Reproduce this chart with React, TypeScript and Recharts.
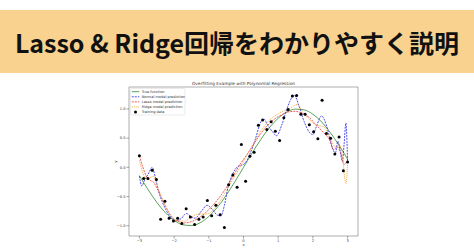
import React from 'react';
import { ComposedChart, Line, Scatter, XAxis, YAxis, ReferenceArea } from 'recharts';

const bannerTitle = 'Lasso & Ridge回帰をわかりやすく説明';
const chartTitle = 'Overfitting Example with Polynomial Regression';
const legendLabels = ['True function', 'Normal model prediction', 'Lasso model prediction', 'Ridge model prediction', 'Training data'];
const xTicks = [-3, -2, -1, 0, 1, 2, 3];
const yTicks = [-1.0, -0.5, 0.0, 0.5, 1.0];

const trainX = [-3.0, -2.878, -2.755, -2.633, -2.51, -2.388, -2.265, -2.143, -2.02, -1.898, -1.776, -1.653, -1.531, -1.408, -1.286, -1.163, -1.041, -0.918, -0.796, -0.673, -0.551, -0.429, -0.306, -0.184, -0.061, 0.061, 0.184, 0.306, 0.429, 0.551, 0.673, 0.796, 0.918, 1.041, 1.163, 1.286, 1.408, 1.531, 1.653, 1.776, 1.898, 2.02, 2.143, 2.265, 2.388, 2.51, 2.633, 2.755, 2.878, 3.0];
const trainY = [0.2, -0.19, -0.19, -0.05, -0.21, -0.89, -0.58, -0.87, -0.92, -0.87, -0.96, -0.71, -0.85, -0.98, -0.89, -0.85, -0.57, -0.83, -0.65, -0.81, -1.03, -0.3, -0.13, -0.34, 0.39, -0.24, 0.19, 0.26, 0.72, 0.81, 0.65, 0.78, 0.62, 0.46, 0.85, 0.99, 1.22, 1.23, 0.91, 0.91, 0.73, 0.61, 0.49, 1.15, 0.58, 0.5, 0.23, 0.52, -0.06, 0.09];

const trueX = [-3, -2.75, -2.5, -2.25, -2, -1.75, -1.5, -1.25, -1, -0.75, -0.5, -0.25, 0, 0.25, 0.5, 0.75, 1, 1.25, 1.5, 1.75, 2, 2.25, 2.5, 2.75, 3];
const trueY = [-0.141, -0.382, -0.598, -0.778, -0.909, -0.984, -0.997, -0.949, -0.841, -0.682, -0.479, -0.247, 0, 0.247, 0.479, 0.682, 0.841, 0.949, 0.997, 0.984, 0.909, 0.778, 0.598, 0.382, 0.141];

const normalX = [-3.0, -2.93, -2.85, -2.75, -2.63, -2.55, -2.45, -2.3, -2.1, -1.95, -1.8, -1.65, -1.5, -1.4, -1.2, -1.05, -0.9, -0.75, -0.65, -0.55, -0.45, -0.3, -0.15, 0.0, 0.1, 0.2, 0.35, 0.5, 0.58, 0.7, 0.85, 0.95, 1.1, 1.25, 1.4, 1.47, 1.6, 1.75, 1.9, 2.0, 2.1, 2.25, 2.4, 2.55, 2.65, 2.72, 2.78, 2.85, 2.9, 2.95, 3.0];
const normalY = [-0.15, -0.32, -0.22, -0.12, 0.0, -0.15, -0.4, -0.65, -0.85, -0.92, -0.88, -0.79, -0.85, -0.87, -0.74, -0.65, -0.72, -0.82, -0.83, -0.65, -0.35, -0.1, 0.02, 0.05, 0.12, 0.25, 0.5, 0.78, 0.83, 0.72, 0.6, 0.54, 0.72, 1.0, 1.2, 1.23, 1.05, 0.78, 0.6, 0.56, 0.7, 0.88, 0.7, 0.35, 0.25, 0.45, 0.3, 0.1, 0.4, 0.76, 0.1];

const lassoX = [-3.0, -2.9, -2.8, -2.7, -2.6, -2.5, -2.3, -2.1, -1.9, -1.7, -1.5, -1.3, -1.1, -0.9, -0.7, -0.5, -0.3, -0.1, 0.1, 0.3, 0.5, 0.7, 0.9, 1.1, 1.3, 1.5, 1.7, 1.9, 2.1, 2.3, 2.5, 2.6, 2.7, 2.8, 2.9, 3.0];
const lassoY = [0.2, 0.0, -0.15, -0.22, -0.25, -0.35, -0.6, -0.82, -0.92, -0.95, -0.93, -0.87, -0.78, -0.66, -0.52, -0.35, -0.15, 0.05, 0.22, 0.4, 0.58, 0.72, 0.83, 0.9, 0.95, 0.96, 0.92, 0.85, 0.72, 0.6, 0.45, 0.3, 0.35, 0.25, 0.05, 0.12];

const ridgeX = [-3.0, -2.9, -2.8, -2.7, -2.6, -2.5, -2.3, -2.1, -1.9, -1.7, -1.5, -1.3, -1.1, -0.9, -0.7, -0.5, -0.3, -0.1, 0.1, 0.3, 0.5, 0.7, 0.9, 1.1, 1.3, 1.45, 1.55, 1.7, 1.9, 2.1, 2.3, 2.5, 2.65, 2.75, 2.85, 2.95, 3.0];
const ridgeY = [0.12, -0.1, -0.2, -0.18, -0.15, -0.3, -0.6, -0.82, -0.92, -0.92, -0.85, -0.8, -0.8, -0.75, -0.6, -0.4, -0.2, 0.0, 0.2, 0.42, 0.62, 0.78, 0.88, 0.95, 1.0, 1.05, 1.08, 0.95, 0.82, 0.72, 0.7, 0.5, 0.35, 0.4, 0.2, -0.28, 0.05];

const zip = (xs: number[], ys: number[]) => xs.map((x, i) => ({ x, y: ys[i] }));
const trainData = zip(trainX, trainY);
const trueData = zip(trueX, trueY);
const normalData = zip(normalX, normalY);
const lassoData = zip(lassoX, lassoY);
const ridgeData = zip(ridgeX, ridgeY);

const COLORS = { true: '#2e8b2e', normal: '#2323e8', lasso: '#e83232', ridge: '#f2a23a' };
const FONT = 'DejaVu Sans, sans-serif';
const fmt = (v: number) => (v < 0 ? '\u2212' : '') + Math.abs(v).toString();
const fmtY = (v: number) => (v < 0 ? '\u2212' : '') + Math.abs(v).toFixed(1);

const Dot = (props: any) => <circle cx={props.cx} cy={props.cy} r={1.5} fill="#000" />;

const YLabel = (props: any) => {
  const vb = props.viewBox || {};
  const cx = vb.x + 6;
  const cy = vb.y + vb.height / 2;
  return (
    <text x={cx} y={cy} transform={`rotate(-90 ${cx} ${cy})`} textAnchor="middle" dominantBaseline="central" fontSize={3.8} fill="#333" fontFamily={FONT}>y</text>
  );
};

export default function App() {
  return (
    <div style={{ position: 'absolute', left: 0, top: 0, width: 474, height: 248, background: '#fff', overflow: 'hidden' }}>
      <div style={{ position: 'absolute', left: 0, top: 10, width: 474, height: 63, background: '#f8d28e' }} />
      <div style={{ position: 'absolute', left: 0, top: 24, width: 474, textAlign: 'center', fontFamily: "'Noto Sans CJK JP', sans-serif", fontWeight: 700, fontSize: 25, lineHeight: '36px', color: '#111', whiteSpace: 'nowrap' }}>
        {bannerTitle}
      </div>
      <div style={{ position: 'absolute', left: 0, top: 0 }}>
        <ComposedChart width={474} height={248} margin={{ top: 87, right: 116, bottom: 0, left: 109 }}>
          <XAxis type="number" dataKey="x" domain={[-3.3, 3.3]} ticks={xTicks} allowDataOverflow axisLine={false} tickLine={{ stroke: '#666', strokeWidth: 0.6 }} tickSize={2.5} tickMargin={0.5} height={12} tickFormatter={fmt} tick={{ fontSize: 3.6, fill: '#333', fontFamily: FONT }} label={{ value: 'x', position: 'insideBottom', offset: 2.5, fontSize: 3.8, fill: '#333', fontFamily: FONT }} />
          <YAxis type="number" dataKey="y" domain={[-1.176, 1.376]} ticks={yTicks} allowDataOverflow axisLine={false} tickLine={{ stroke: '#666', strokeWidth: 0.6 }} tickSize={2.5} tickMargin={1} width={20} tickFormatter={fmtY} tick={{ fontSize: 3.6, fill: '#333', fontFamily: FONT }} label={<YLabel />} />
          <ReferenceArea x1={-3.3} x2={3.3} y1={-1.176} y2={1.376} fill="#fff" fillOpacity={0} stroke="#8a8a8a" strokeWidth={0.7} ifOverflow="visible" />
          <Line data={trueData} dataKey="y" type="monotone" stroke={COLORS.true} strokeWidth={0.8} dot={false} isAnimationActive={false} />
          <Line data={normalData} dataKey="y" type="monotone" stroke={COLORS.normal} strokeWidth={0.8} strokeDasharray="2 1" dot={false} isAnimationActive={false} />
          <Line data={lassoData} dataKey="y" type="monotone" stroke={COLORS.lasso} strokeWidth={0.8} strokeDasharray="2 1" dot={false} isAnimationActive={false} />
          <Line data={ridgeData} dataKey="y" type="monotone" stroke={COLORS.ridge} strokeWidth={0.8} strokeDasharray="1.2 0.8" dot={false} isAnimationActive={false} />
          <Scatter data={trainData} dataKey="y" fill="#000" shape={<Dot />} isAnimationActive={false} />
        </ComposedChart>
      </div>
      <svg width={474} height={248} style={{ position: 'absolute', left: 0, top: 0, pointerEvents: 'none' }}>
        <text x={243.5} y={85.3} textAnchor="middle" fontSize={4.3} fill="#333" fontFamily={FONT}>{chartTitle}</text>
        <rect x={130.5} y={88.5} width={54.5} height={26.5} rx={1} fill="#fff" fillOpacity={0.85} stroke="#d6d6d6" strokeWidth={0.5} />
        {legendLabels.map((lab, i) => {
          const y = 91.7 + i * 5.1;
          const colors = [COLORS.true, COLORS.normal, COLORS.lasso, COLORS.ridge];
          const dashes = [undefined, '2 1', '2 1', '1.2 0.8'];
          return (
            <g key={lab}>
              {i < 4 ? (
                <line x1={131.8} x2={139.3} y1={y} y2={y} stroke={colors[i]} strokeWidth={0.8} strokeDasharray={dashes[i]} />
              ) : (
                <circle cx={135.5} cy={y} r={1.5} fill="#000" />
              )}
              <text x={141.7} y={y} dominantBaseline="central" fontSize={3.5} fill="#333" fontFamily={FONT}>{lab}</text>
            </g>
          );
        })}
      </svg>
    </div>
  );
}
